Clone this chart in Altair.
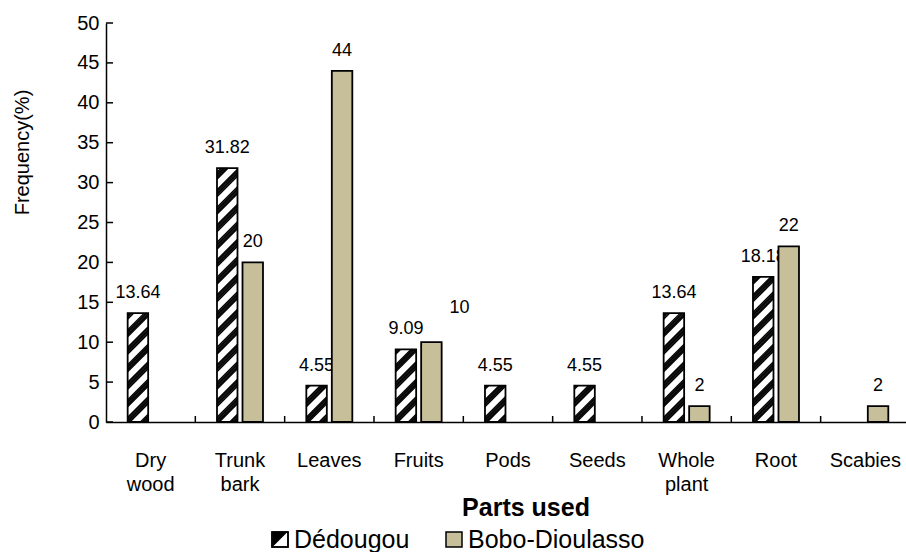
import math
import altair as alt
import pandas as pd

# ---------------- data ----------------
categories = ["Dry wood", "Trunk bark", "Leaves", "Fruits", "Pods", "Seeds",
              "Whole plant", "Root", "Scabies"]
dedougou = [13.64, 31.82, 4.55, 9.09, 4.55, 4.55, 13.64, 18.18, None]
bobo = [None, 20, 44, 10, None, None, 2, 22, 2]
series_names = ["Dédougou", "Bobo-Dioulasso"]
y_ticks = [0, 5, 10, 15, 20, 25, 30, 35, 40, 45, 50]

# ---------------- geometry / style ----------------
PLOT_W, PLOT_H = 800, 399
CAT_PX = 89.33                       # pixels per category
XMAX = PLOT_W / CAT_PX
PY = PLOT_H / 50.0                   # pixels per y unit
TAN = "#C7BF9A"
FONT = "Liberation Sans"
D_L, D_R = -23.0, -2.5               # dedougou bar edges (px from category centre)
B_L, B_R = 2.5, 23.0
BW = D_R - D_L
P, T, PHASE = 17.5, 8.5, 3.0         # hatch period / thickness (vertical px)
NSUB = 6                             # thin lines per hatch band

rows = []
for i, c in enumerate(categories):
    for s, vals in zip(series_names, [dedougou, bobo]):
        v = vals[i]
        if v is not None:
            rows.append({"cat": c, "idx": i, "series": s, "value": v,
                         "label": f"{v:g}", "zero": 0})
df = pd.DataFrame(rows)
cat_df = pd.DataFrame({"cat": categories, "idx": list(range(len(categories)))})
bound_df = pd.DataFrame({"b": list(range(1, len(categories)))})
ytick_df = pd.DataFrame({"t": y_ticks, "xa": [0] * len(y_ticks)})
one = pd.DataFrame({"a": [0]})

# hatch stripes derived from each Dédougou value: each 45-degree band is made of
# thin lines whose centre lines are clipped exactly to the bar rectangle
stripe_rows = []
for i, v in enumerate(dedougou):
    if v is None:
        continue
    H = v * PY
    for k in range(-3, math.ceil(H / P) + 2):
        for j in range(NSUB):
            cc = k * P - PHASE + (j + 0.5) * T / NSUB
            xa = max(0.0, -cc)
            xb = min(BW, H - cc)
            if xb - xa < 0.3:
                continue
            stripe_rows.append({
                "x1": i + 0.5 + (D_L + xa) / CAT_PX, "y1": (xa + cc) / PY,
                "x2": i + 0.5 + (D_L + xb) / CAT_PX, "y2": (xb + cc) / PY,
            })
stripe_df = pd.DataFrame(stripe_rows)
SUB_W = (T / NSUB) * math.cos(math.pi / 4) * 1.3

x_scale = alt.Scale(domain=[0, XMAX], nice=False, zero=False)
y_scale = alt.Scale(domain=[0, 50], nice=False, zero=True)

x_axis = alt.Axis(labels=False, ticks=False, title=None, grid=False,
                  domainColor="black", domainWidth=1.5)
y_axis = alt.Axis(values=y_ticks, ticks=False, grid=False, labelFontSize=20,
                  labelColor="black", labelPadding=7, labelOverlap=False,
                  domainColor="black", domainWidth=1.5,
                  title="Frequency(%)", titleFontSize=20, titleFontWeight="normal",
                  titleColor="black", titleAngle=270, titleX=-84, titleY=129,
                  titleAlign="center", titleBaseline="middle")


def X(field):
    return alt.X(field, scale=x_scale, axis=x_axis)


def Y(field, **kw):
    return alt.Y(field, scale=y_scale, axis=y_axis, **kw)


base = alt.Chart(df)
ded = base.transform_filter(alt.datum.series == series_names[0])
bob = base.transform_filter(alt.datum.series == series_names[1])


def bar_pos(chart, l, r):
    return chart.transform_calculate(
        x0=f"datum.idx + 0.5 + ({l}) / {CAT_PX}",
        x1=f"datum.idx + 0.5 + ({r}) / {CAT_PX}",
    )


# inside y tick marks (also carries both axes)
axes_layer = alt.Chart(ytick_df).mark_rule(color="black", strokeWidth=1.5).encode(
    y=Y("t:Q"), x=X("xa:Q"), x2=alt.value(7),
)

d_fill = bar_pos(ded, D_L, D_R).mark_rect(fill="white", opacity=1).encode(
    x=X("x0:Q"), x2="x1:Q", y=Y("value:Q"), y2="zero:Q",
)

stripes = alt.Chart(stripe_df).mark_rule(
    color="black", strokeWidth=SUB_W, strokeCap="butt", opacity=1
).encode(x=X("x1:Q"), x2="x2:Q", y=Y("y1:Q"), y2="y2:Q")

d_outline = bar_pos(ded, D_L, D_R).mark_rect(
    fillOpacity=0, stroke="black", strokeWidth=1.8, opacity=1
).encode(x=X("x0:Q"), x2="x1:Q", y=Y("value:Q"), y2="zero:Q")

txt = dict(fontSize=18, baseline="alphabetic", align="center", color="black")

d_labels = ded.transform_calculate(
    xc=f"datum.idx + 0.5 + ({(D_L + D_R) / 2}) / {CAT_PX}"
).mark_text(dy=-15, **txt).encode(x=X("xc:Q"), y=Y("value:Q"), text="label:N")

b_bars = bar_pos(bob, B_L, B_R).mark_rect(
    fill=TAN, stroke="black", strokeWidth=1.8, opacity=1
).encode(x=X("x0:Q"), x2="x1:Q", y=Y("value:Q"), y2="zero:Q")

b_lab_base = bob.transform_calculate(
    xc=f"datum.idx + 0.5 + ({(B_L + B_R) / 2}) / {CAT_PX}"
)
b_labels = b_lab_base.transform_filter(alt.datum.cat != "Fruits").mark_text(
    dy=-15, **txt).encode(x=X("xc:Q"), y=Y("value:Q"), text="label:N")
b_label_moved = b_lab_base.transform_filter(alt.datum.cat == "Fruits").mark_text(
    dx=28, dy=-29, **txt).encode(x=X("xc:Q"), y=Y("value:Q"), text="label:N")

x_ticks = alt.Chart(bound_df).mark_rule(color="black", strokeWidth=1.5).encode(
    x=X("b:Q"), y=alt.value(PLOT_H), y2=alt.value(PLOT_H - 6),
)

cat_labels = alt.Chart(cat_df).transform_calculate(
    xc="datum.idx + 0.5",
    lab="replace(datum.cat, ' ', '\\n')",
).mark_text(fontSize=20, lineBreak="\n", lineHeight=24, baseline="alphabetic",
            align="center", color="black").encode(
    x=X("xc:Q"), y=alt.value(PLOT_H + 45), text="lab:N",
)

x_title = alt.Chart(one).mark_text(
    text="Parts used", fontSize=25, fontWeight="bold", align="center",
    baseline="alphabetic", color="black"
).encode(x=alt.value(420), y=alt.value(493))

# legend
leg_d_box = alt.Chart(one).mark_rect(fill="white", stroke="black", strokeWidth=1.5).encode(
    x=alt.value(166), x2=alt.value(182), y=alt.value(509), y2=alt.value(524))
leg_d_tri = alt.Chart(one).mark_point(
    shape="M-1,-1L1,-1L-1,1Z", filled=True, fill="black", opacity=1, size=225, strokeWidth=0
).encode(x=alt.value(174), y=alt.value(516.5))
leg_d_frame = alt.Chart(one).mark_rect(fillOpacity=0, stroke="black", strokeWidth=1.5).encode(
    x=alt.value(166), x2=alt.value(182), y=alt.value(509), y2=alt.value(524))
leg_b_box = alt.Chart(one).mark_rect(fill=TAN, stroke="black", strokeWidth=1.5).encode(
    x=alt.value(340), x2=alt.value(356), y=alt.value(509), y2=alt.value(524))
leg_text = dict(fontSize=25, align="left", baseline="alphabetic", color="black")
leg_d_txt = alt.Chart(one).mark_text(text=series_names[0], **leg_text).encode(
    x=alt.value(188), y=alt.value(525))
leg_b_txt = alt.Chart(one).mark_text(text=series_names[1], **leg_text).encode(
    x=alt.value(362), y=alt.value(525))

chart = alt.layer(
    axes_layer, d_fill, stripes, d_outline, d_labels, b_bars, b_labels, b_label_moved,
    x_ticks, cat_labels, x_title,
    leg_d_box, leg_d_tri, leg_d_frame, leg_b_box, leg_d_txt, leg_b_txt,
).properties(
    width=PLOT_W, height=PLOT_H,
    padding={"left": 106, "top": 23, "right": 0, "bottom": 130},
    autosize=alt.AutoSizeParams(type="none"),
).configure(font=FONT).configure_view(stroke=None)

chart.save("out.html", embed_options={"renderer": "svg", "actions": False})
